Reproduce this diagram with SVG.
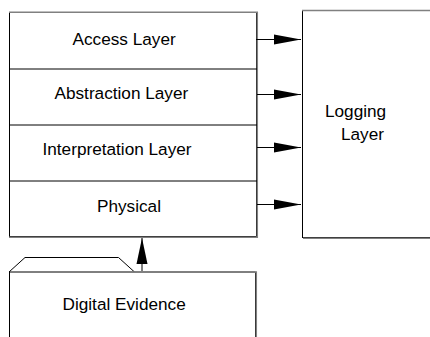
<svg xmlns="http://www.w3.org/2000/svg" width="430" height="337" viewBox="0 0 430 337">
<style>
text{font-family:"Liberation Sans",Arial,sans-serif;font-size:17.2px;fill:#000}
.b{fill:#fff;stroke:#000;stroke-width:1}
.sh{fill:none;stroke:#808080;stroke-width:1.5}
.ln{fill:none;stroke:#000;stroke-width:1}
</style>
<defs>
<marker id="ah" markerWidth="28" markerHeight="11" refX="27" refY="5.5" orient="auto" markerUnits="userSpaceOnUse">
<path d="M0,0.5 L27,5.5 L0,10.5 Z" fill="#000"/>
</marker>
<marker id="au" markerWidth="26" markerHeight="12" refX="26" refY="6" orient="auto" markerUnits="userSpaceOnUse">
<path d="M0,0.5 L26,6 L0,11.5 Z" fill="#000"/>
</marker>
</defs>
<g id="logging">
<rect class="b" x="302.5" y="10.5" width="140" height="227"/>
<path class="sh" d="M302,10.5 H432 M303,238.2 H432"/>
<text x="325" y="117">Logging</text>
<text x="341" y="140">Layer</text>
</g>
<g id="stack">
<rect class="b" x="9.5" y="12.5" width="247" height="224"/>
<path class="sh" d="M9,12.3 H257.3 V237.3 H9"/>
</g>
<g id="access"><text x="72.5" y="45">Access Layer</text></g>
<g id="abstraction"><line class="ln" x1="9" y1="69" x2="257" y2="69"/><text x="54.5" y="98.5">Abstraction Layer</text></g>
<g id="interpretation"><line class="ln" x1="9" y1="125" x2="257" y2="125"/><text x="42.5" y="155">Interpretation Layer</text></g>
<g id="physical"><line class="ln" x1="9" y1="181" x2="257" y2="181"/><text x="97" y="211.5">Physical</text></g>
<g id="evidence">
<path class="ln" d="M9,272 L25,257.5 H118.5 L134.5,272"/>
<path class="b" d="M9.5,340 V272 H255.5 V340"/>
<path class="sh" d="M13,272 H256.3 V340"/>
<text x="62.5" y="310">Digital Evidence</text>
</g>
<g id="connectors">
<line class="ln" x1="256" y1="39.5" x2="301" y2="39.5" marker-end="url(#ah)"/>
<line class="ln" x1="257" y1="94.5" x2="301" y2="94.5" marker-end="url(#ah)"/>
<line class="ln" x1="257" y1="147.5" x2="301" y2="147.5" marker-end="url(#ah)"/>
<line class="ln" x1="257" y1="204.5" x2="301" y2="204.5" marker-end="url(#ah)"/>
<line class="ln" x1="142" y1="271" x2="142" y2="238" marker-end="url(#au)"/>
</g>
</svg>
